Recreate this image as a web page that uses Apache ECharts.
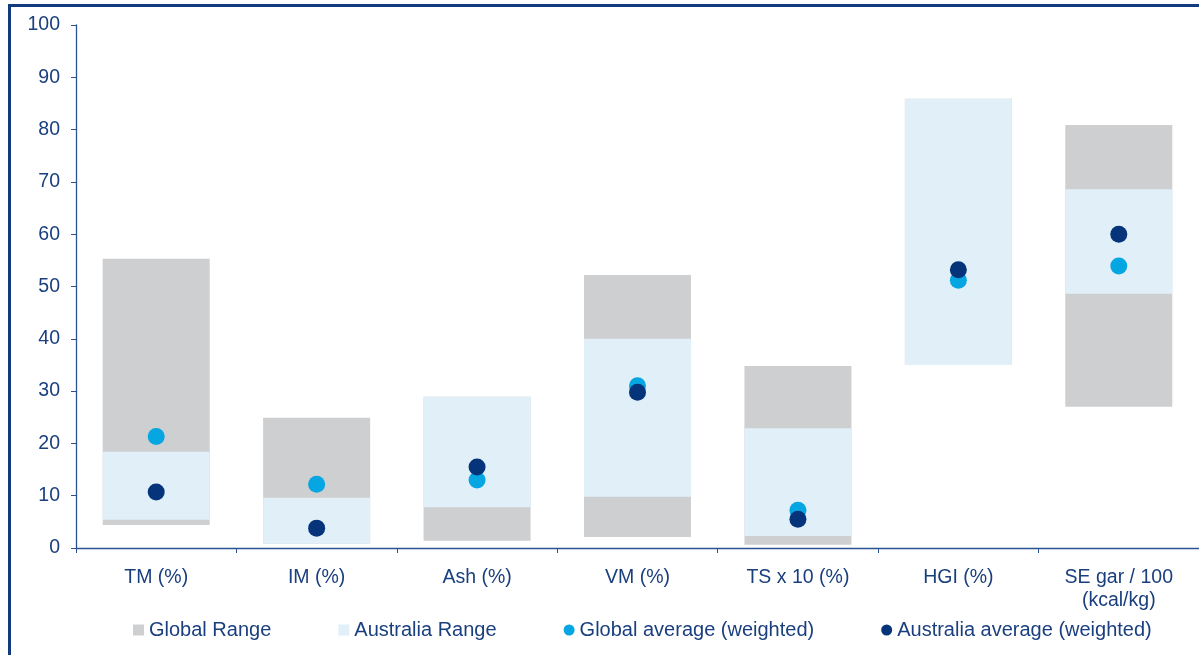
<!DOCTYPE html>
<html>
<head>
<meta charset="utf-8">
<title>Coal quality ranges</title>
<script src="https://cdn.jsdelivr.net/npm/echarts@6/dist/echarts.min.js"></script>
<style>
  html, body { margin: 0; padding: 0; background: #fff; }
  #chart { width: 1199px; height: 655px; }
</style>
</head>
<body>
<div id="chart"></div>
<script>
// Coal quality parameters
const categories = ['TM (%)', 'IM (%)', 'Ash (%)', 'VM (%)', 'TS x 10 (%)', 'HGI (%)', 'SE gar / 100\n(kcal/kg)'];

// Global range (min / max)
const globalMin = [4.4, 0.8, 1.4, 2.1, 0.6, 35.0, 27.0];
const globalMax = [55.3, 24.9, 28.9, 52.2, 34.8, 85.9, 80.9];

// Australia range (min / max)
const ausMin = [5.4, 0.8, 7.8, 9.8, 2.3, 35.0, 48.6];
const ausMax = [18.4, 9.6, 28.9, 40.0, 22.9, 85.9, 68.6];

// Weighted averages
const globalAvg = [21.3, 12.2, 13.0, 31.0, 7.2, 51.2, 53.9];
const ausAvg = [10.7, 3.8, 15.5, 29.8, 5.5, 53.2, 60.0];

// Y axis ticks
const yMin = 0, yMax = 100, yStep = 10;

const NAVY = '#1a3f7e';
const FONT = "'Liberation Sans', Arial, sans-serif";

const span = (lo, hi) => hi.map((v, i) => +(v - lo[i]).toFixed(2));

const chart = echarts.init(document.getElementById('chart'), null, { renderer: 'canvas' });

chart.setOption({
  animation: false,
  textStyle: { fontFamily: FONT, color: NAVY },
  grid: { left: 76, right: 0, top: 25, bottom: 107, containLabel: false },
  legend: {
    left: 128,
    top: 615,
    itemWidth: 11,
    itemHeight: 11,
    itemGap: 67,
    textStyle: { fontFamily: FONT, fontSize: 20, color: NAVY },
    data: [
      { name: 'Global Range', icon: 'rect' },
      { name: 'Australia Range', icon: 'rect' },
      { name: 'Global average (weighted)', icon: 'circle' },
      { name: 'Australia average (weighted)', icon: 'circle' }
    ]
  },
  xAxis: {
    type: 'category',
    data: categories,
    boundaryGap: true,
    axisLine: { lineStyle: { color: '#2b5292', width: 1.3 } },
    axisTick: { show: true, alignWithLabel: false, length: 5, lineStyle: { color: '#2b5292' } },
    axisLabel: { fontFamily: FONT, fontSize: 19.5, color: NAVY, margin: 18, lineHeight: 23, interval: 0 }
  },
  yAxis: {
    type: 'value',
    min: yMin,
    max: yMax,
    interval: yStep,
    splitLine: { show: false },
    axisLine: { show: true, lineStyle: { color: '#2b5292', width: 1.3 } },
    axisTick: { show: true, length: 5, lineStyle: { color: '#2b5292' } },
    axisLabel: { fontFamily: FONT, fontSize: 19.5, color: NAVY, margin: 16 }
  },
  series: [
    {
      name: 'gBase', type: 'bar', stack: 'global', silent: true,
      barWidth: 107, barGap: '-100%',
      itemStyle: { color: 'transparent' },
      data: globalMin
    },
    {
      name: 'Global Range', type: 'bar', stack: 'global', silent: true,
      barWidth: 107, barGap: '-100%',
      itemStyle: { color: '#cecfd1' },
      data: span(globalMin, globalMax)
    },
    {
      name: 'aBase', type: 'bar', stack: 'aus', silent: true,
      barWidth: 107, barGap: '-100%',
      itemStyle: { color: 'transparent' },
      data: ausMin
    },
    {
      name: 'Australia Range', type: 'bar', stack: 'aus', silent: true,
      barWidth: 107, barGap: '-100%',
      itemStyle: { color: '#e1eff8' },
      data: span(ausMin, ausMax)
    },
    {
      name: 'Global average (weighted)', type: 'scatter', z: 5,
      symbol: 'circle', symbolSize: 17,
      itemStyle: { color: '#05a6e1', opacity: 1 },
      data: globalAvg
    },
    {
      name: 'Australia average (weighted)', type: 'scatter', z: 6,
      symbol: 'circle', symbolSize: 17,
      itemStyle: { color: '#05347a', opacity: 1 },
      data: ausAvg
    }
  ],
  graphic: [
    // outer frame: left and top edges
    { type: 'rect', shape: { x: 8, y: 4, width: 3, height: 660 }, style: { fill: '#113a7f' }, silent: true },
    { type: 'rect', shape: { x: 8, y: 4, width: 1200, height: 3 }, style: { fill: '#113a7f' }, silent: true }
  ]
});
</script>
</body>
</html>
